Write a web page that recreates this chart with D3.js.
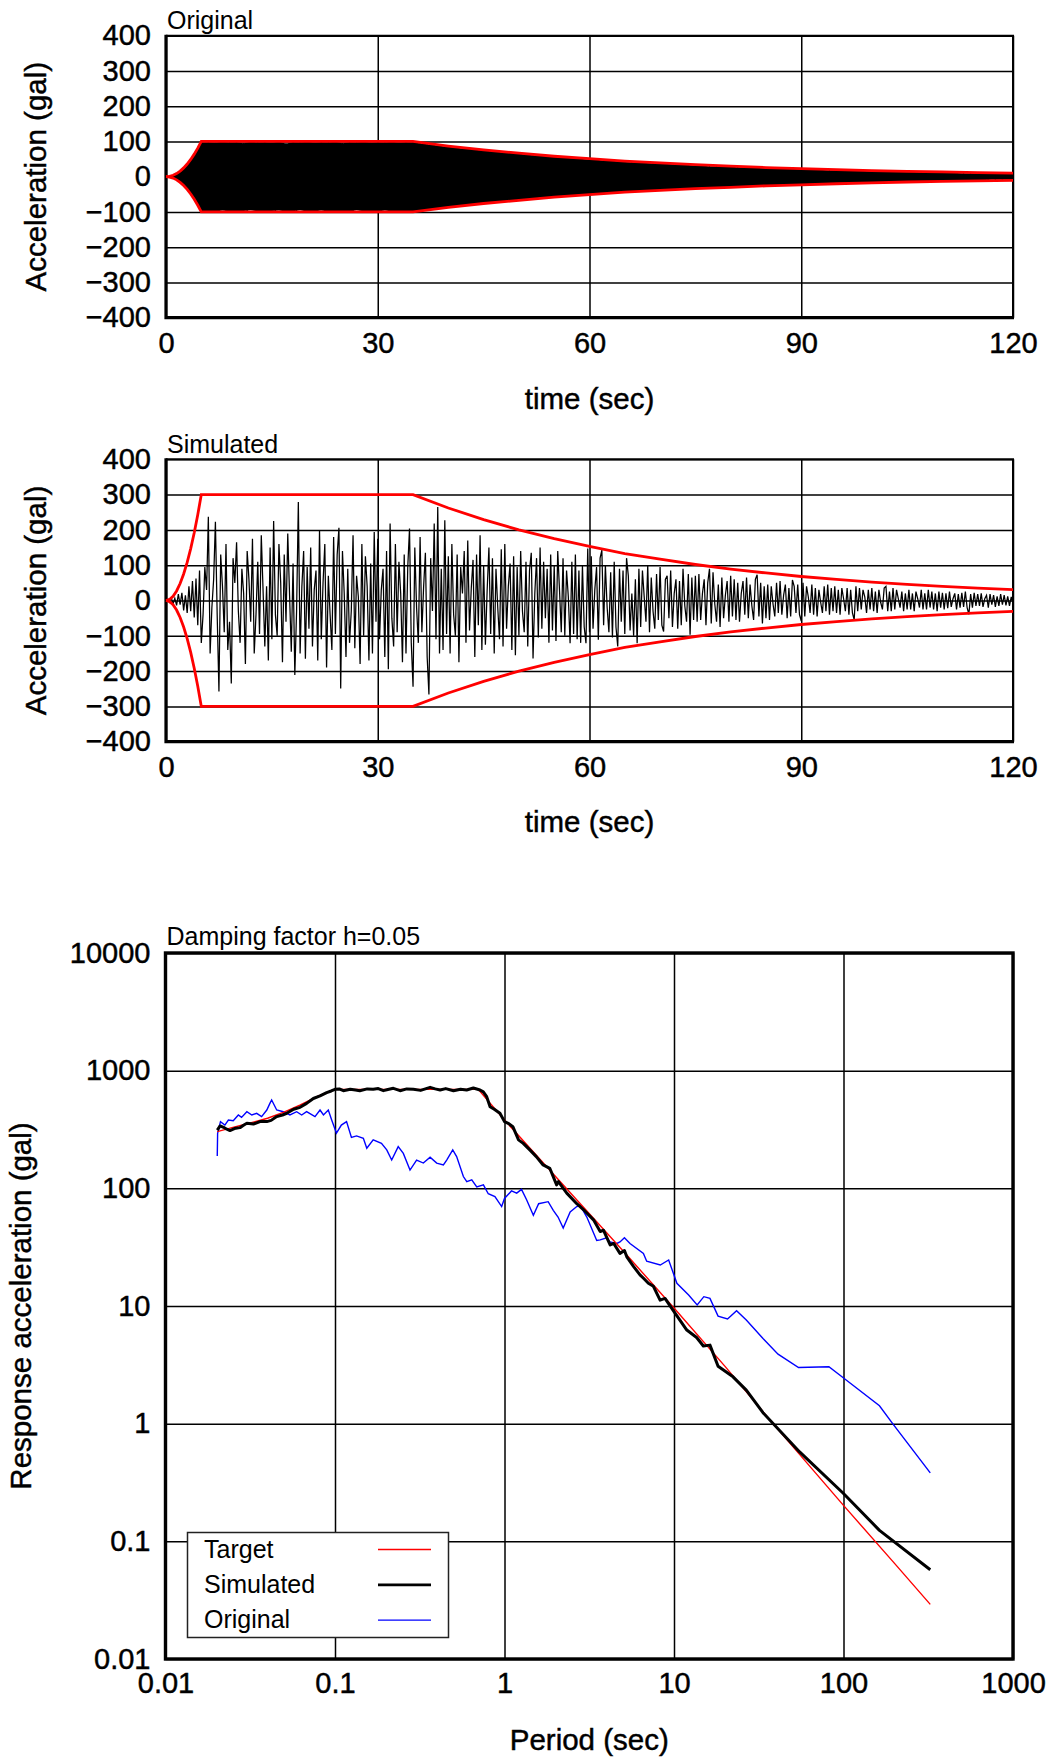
<!DOCTYPE html>
<html>
<head>
<meta charset="utf-8">
<script src="https://cdn.jsdelivr.net/npm/d3@7"></script>
<style>
body { margin: 0; background: #fff; }
svg text { font-family: "Liberation Sans", Arial, sans-serif; fill: #000; }
svg .heavy { stroke: #000; stroke-width: 0.45px; }
</style>
</head>
<body>
<svg id="chart" width="1051" height="1762"></svg>
<script>
// ticks
const timeTicks = [0, 30, 60, 90, 120];
const accTicks = [-400, -300, -200, -100, 0, 100, 200, 300, 400];
const periodTicks = [0.01, 0.1, 1, 10, 100, 1000];
const saTicks = [0.01, 0.1, 1, 10, 100, 1000, 10000];

// envelope (sec, gal)
const envTime = [0, 0.5, 1, 1.5, 2, 2.5, 3, 3.5, 4, 4.5, 5, 35, 40, 45, 50, 55, 60, 65, 70, 75, 80, 85, 90, 95, 100, 105, 110, 115, 120];
const envOriginal = [0, 1, 4, 9, 16, 25, 36, 49, 64, 81, 100, 100, 87, 76, 67, 58, 51, 44, 39, 34, 30, 26, 23, 20, 17.5, 15, 13.5, 11.8, 10.3];
const envSimulated = [0, 3, 12, 27, 48, 75, 108, 147, 192, 243, 300, 300, 262, 229, 200, 175, 153, 133, 117, 102, 89, 78, 68, 60, 52, 45.5, 40, 35, 31];

// original record : peaks per second (gal)
const origMax = [0, 4, 15, 35, 62, 97, 98, 96, 99, 97, 98, 95, 99, 97, 98, 96, 99, 94, 98, 97,
  99, 96, 98, 97, 99, 95, 98, 97, 99, 96, 98, 97, 99, 96, 98, 97, 95, 92, 90, 87,
  85, 83, 80, 79, 76, 75, 72, 71, 68, 67, 65, 63, 61, 60, 58, 56, 55, 53, 52, 50,
  49, 48, 46, 45, 44, 42, 41, 40, 39, 38, 37, 36, 35, 34, 33, 32, 31, 30, 29.5, 29,
  28, 27, 26.5, 26, 25, 24, 23.5, 23, 22, 21.5, 21, 20.5, 20, 19, 18.5, 18, 17.5, 17, 16.5, 16,
  15.5, 15, 14.5, 14, 13.5, 13, 13, 12.5, 12, 11.5, 11.5, 11, 10.5, 10, 10, 9.5, 9, 9, 8.5, 8, 8];
const origMin = [0, -4, -16, -36, -63, -98, -97, -99, -96, -98, -99, -97, -95, -98, -99, -97, -96, -99, -98, -95,
  -99, -98, -96, -99, -97, -98, -99, -95, -98, -97, -99, -96, -98, -99, -97, -98, -96, -93, -91, -88,
  -86, -84, -82, -79, -77, -76, -73, -71, -70, -68, -66, -64, -62, -60, -59, -57, -55, -54, -52, -51,
  -50, -48, -47, -46, -44, -43, -42, -41, -40, -38, -38, -37, -36, -35, -34, -33, -32, -31, -30, -29.5,
  -29, -28, -27, -26.5, -26, -25, -24, -23.5, -23, -22, -22, -21, -20.5, -20, -19, -18.5, -18, -17.5, -17, -16.5,
  -16, -15.5, -15, -14.5, -14, -13.5, -13, -13, -12.5, -12, -11.5, -11.5, -11, -10.5, -10, -10, -9.5, -9, -9, -8.5, -8];

// simulated record, one sample every 0.25 sec (gal)
const dtSim = 0.25;
const simAcc = [
  0, 3, -5, 8, -10, 6, -14, 18, -12, 22, -28, 15, -35, 40, -30, 55, -48, 62, -70, 85,
  -120, -40, 95, 30, 237, -150, -20, 60, 223, -40, -258, 130, 40, -90, 160, -140, -60, -235, 120, 50,
  165, -30, -120, 90, 20, -180, 140, 60, -60, 175, -150, -40, 110, -95, 185, 30, -130, 40, -170, 150,
  -110, 225, -40, -100, 160, 50, -175, 130, -60, 190, 20, -145, 105, -211, -30, 279, -150, 40, 140, -165,
  95, -80, 150, -130, 30, 85, -170, 200, -110, 50, 160, -190, 70, -40, -140, 180, -95, 130, 206, -249,
  140, 20, -160, 90, -120, -30, 185, -135, 70, 10, -180, 160, -100, 125, 40, -170, 105, -150, 194, -60,
  175, -110, 30, 90, -160, 140, -195, 218, -50, -130, 160, -90, 110, 20, -175, 130, -150, 95, 204, -120,
  -244, 150, -20, -120, 180, -90, 40, 135, -160, -266, 120, -30, 218, -110, 265, -150, 90, -140, 227, -95,
  125, -150, 160, -40, -100, 130, -175, 95, 20, 140, -120, 170, -85, 35, 115, -160, 130, -70, 185, -140,
  100, -125, 30, 150, -95, 120, -150, 90, -20, -110, 145, -130, 160, -80, 40, 105, -140, 125, -155, 95,
  -100, 140, -30, -90, 110, -130, 85, 135, -164, 20, 120, -105, 150, -80, 110, -50, 90, -120, 130, -85,
  100, -115, 140, 30, -90, 120, -100, 85, 10, -121, 110, -95, 130, -110, 85, -120, 100, -75, -121, 147,
  -90, 125, -80, 30, 95, -111, 120, 143, -70, 100, -20, -90, 80, -105, 110, -75, -130, 90, -60, 85,
  -95, 120, 70, -85, 20, -100, 60, -121, 90, -75, 85, 10, -60, 100, -90, 65, -30, -80, 75, -55,
  95, -70, -88, 60, 70, -50, 85, -75, 20, 60, -80, 55, -70, 90, -15, -60, 75, -97, 65, -55,
  70, -60, 75, -55, 20, 60, -70, 50, 90, -65, 80, -10, -60, 45, -75, 65, -50, 15, 55, -60,
  70, -45, 60, -55, 50, -60, 20, 55, -40, 65, -50, 45, -15, -55, 60, 73, -45, 50, -65, 40,
  -50, 45, -55, 40, -10, -45, 50, -35, 55, -40, 15, 45, -50, 35, -45, 58, 40, -35, 45, -40,
  -58, 50, -45, 40, 10, -35, 45, -40, 35, -45, 30, -5, -35, 40, -30, 45, -40, 35, -30, 40,
  -35, 30, -40, 35, 5, -30, 35, -40, 30, -35, -55, 40, -30, 35, -25, 30, 10, -35, 30, -25,
  35, -30, 25, -35, 30, -5, -25, 35, 40, -30, 25, -30, 35, -25, 30, 5, -20, 25, -30, 20,
  -25, 30, -25, 20, -30, 25, 5, -20, 30, -25, 20, -25, 30, -20, 25, -25, 20, -30, 25, -20,
  22, -25, 20, -22, 25, -18, 5, 20, -25, 18, -20, 22, -18, 25, -20, -39, 18, -20, 22, -15,
  18, -15, 20, -18, 5, 15, -20, 18, -12, 15, -18, 12, -15, 18, -12, 15, -14, 12, -15, 10,
  -8];

// response spectra [period (sec), acceleration (gal)]
const targetSpec = [[0.0202, 303], [0.025, 330], [0.03, 352], [0.04, 394], [0.05, 445], [0.062, 510], [0.08, 610],
  [0.1, 693], [0.7, 693], [1, 381], [2, 126], [5, 29.5], [10, 9.6], [20, 3.07], [38.4, 1.0], [100, 0.202],
  [200, 0.065], [325, 0.0291]];

const simSpec = [[0.0202, 313], [0.021, 339], [0.022, 330], [0.023, 318], [0.024, 310], [0.0255, 322], [0.0275, 328],
  [0.029, 345], [0.0302, 357], [0.033, 352], [0.0361, 369], [0.0396, 369], [0.042, 378], [0.0453, 407], [0.049, 420],
  [0.0519, 434], [0.057, 470], [0.0622, 488], [0.068, 527], [0.0745, 580], [0.0816, 610], [0.0893, 650], [0.095, 672],
  [0.1, 694], [0.106, 700], [0.112, 676], [0.123, 694], [0.132, 684], [0.14, 676], [0.155, 700], [0.168, 694],
  [0.18, 705], [0.193, 676], [0.205, 692], [0.221, 708], [0.242, 676], [0.265, 700], [0.29, 694], [0.32, 680],
  [0.364, 722], [0.39, 700], [0.417, 685], [0.45, 704], [0.5, 676], [0.55, 695], [0.598, 685], [0.655, 712],
  [0.717, 685], [0.75, 660], [0.785, 601], [0.822, 494], [0.87, 470], [0.94, 434], [1.0, 369], [1.06, 355],
  [1.12, 334], [1.21, 258], [1.29, 241], [1.41, 212], [1.54, 186], [1.69, 158], [1.85, 148], [2.03, 107],
  [2.08, 114], [2.33, 91], [2.67, 74], [2.92, 66], [3.35, 54], [3.67, 43], [3.84, 44], [4.2, 33], [4.41, 34],
  [4.8, 28], [5.1, 29.6], [5.28, 26], [5.78, 21.6], [6.3, 18.4], [6.61, 17.2], [7.06, 15.6], [7.56, 14.7],
  [8.28, 11.2], [8.85, 11.6], [10, 8.95], [11.9, 6.25], [13.6, 5.4], [14.9, 4.57], [16.3, 4.65], [18.2, 3.08],
  [22.3, 2.5], [26.7, 1.93], [33.5, 1.24], [55.1, 0.575], [100, 0.255], [163, 0.124], [325, 0.0574]];

const origSpec = [[0.0202, 188], [0.0203, 294], [0.0211, 369], [0.0224, 345], [0.0235, 381], [0.0251, 376],
  [0.0269, 420], [0.0281, 401], [0.0302, 448], [0.0323, 420], [0.0345, 434], [0.0369, 407], [0.0396, 463],
  [0.0413, 527], [0.0423, 563], [0.0453, 463], [0.0495, 448], [0.0542, 420], [0.0594, 448], [0.0636, 420],
  [0.068, 448], [0.0762, 407], [0.0816, 463], [0.0855, 420], [0.0913, 463], [0.0956, 381], [0.102, 294],
  [0.109, 345], [0.117, 369], [0.125, 271], [0.134, 279], [0.147, 266], [0.154, 219], [0.168, 258], [0.188, 241],
  [0.202, 212], [0.216, 174], [0.236, 226], [0.253, 198], [0.277, 143], [0.303, 174], [0.332, 164], [0.364, 184],
  [0.398, 164], [0.436, 158], [0.456, 174], [0.495, 212], [0.522, 186], [0.572, 126], [0.599, 114], [0.641, 118],
  [0.686, 103], [0.751, 107], [0.802, 90], [0.878, 85], [0.962, 70], [1.0, 82], [1.1, 95], [1.18, 91], [1.26, 98],
  [1.35, 80], [1.48, 59], [1.59, 74], [1.81, 77], [1.94, 65], [2.07, 57], [2.22, 46], [2.44, 63], [2.67, 70],
  [2.79, 72], [3.06, 57], [3.5, 36], [3.67, 36.5], [4.0, 38], [4.19, 35], [4.6, 34], [4.8, 35], [5.1, 38],
  [5.5, 34], [6.6, 28], [6.9, 24], [8.3, 22.3], [9.3, 24.6], [10.4, 15.6], [12.2, 12.4], [13.7, 10.2], [15.0, 12.0],
  [16.3, 11.6], [18.2, 8.2], [20.7, 7.75], [23.4, 9.1], [26.7, 7.6], [33.5, 5.3], [41.1, 3.9], [54.3, 3.0],
  [82, 3.05], [101, 2.42], [163, 1.42], [195, 1.0], [325, 0.382]];

const legendItems = [
  { label: "Target", color: "#ff0000", width: 1.3 },
  { label: "Simulated", color: "#000000", width: 2.8 },
  { label: "Original", color: "#0000ff", width: 1.3 }
];

const svg = d3.select("#chart");
const left = 166, right = 1013;

function styleAxis(a, size) {
  a.select(".domain").remove();
  a.attr("font-family", null).attr("font-size", null);
  a.selectAll("line").attr("stroke", "#000").attr("stroke-width", 1.5);
  a.selectAll("text").attr("class", "heavy").style("font-size", size + "px");
}

// cadre + grille d'un graphe temporel
function AffichageTemps(top, bottom, title, titleBase, xTitleBase) {
  const x = d3.scaleLinear().domain([0, 120]).range([left, right]);
  const y = d3.scaleLinear().domain([-400, 400]).range([bottom, top]);

  svg.append("g")
    .attr("transform", `translate(${left},0)`)
    .call(d3.axisLeft(y).tickValues(accTicks).tickSize(-(right - left)).tickPadding(15).tickFormat(d3.format("d")))
    .call(a => styleAxis(a, 29));

  svg.append("g")
    .attr("transform", `translate(0,${bottom})`)
    .call(d3.axisBottom(x).tickValues(timeTicks).tickSize(-(bottom - top)).tickPadding(14.5))
    .call(a => styleAxis(a, 29));

  // bord haut/droit fin, gauche/bas epais
  svg.append("path")
    .attr("d", `M${left},${top}H${right}V${bottom}`)
    .attr("fill", "none").attr("stroke", "#000").attr("stroke-width", 2);
  svg.append("path")
    .attr("d", `M${left},${top - 1}V${bottom}H${right + 1}`)
    .attr("fill", "none").attr("stroke", "#000").attr("stroke-width", 3.2);

  svg.append("text").attr("x", left + 1).attr("y", titleBase)
    .style("font-size", "25px").text(title);

  svg.append("text")
    .attr("class", "heavy")
    .attr("transform", `translate(46,${(top + bottom) / 2}) rotate(-90)`)
    .attr("text-anchor", "middle").style("font-size", "29.5px")
    .text("Acceleration (gal)");

  svg.append("text").attr("class", "heavy")
    .attr("x", (left + right) / 2).attr("y", xTitleBase)
    .attr("text-anchor", "middle").style("font-size", "29.5px")
    .text("time (sec)");

  return { x, y };
}

function AffichageEnveloppe(sc, env) {
  const line = d3.line().x((d, i) => sc.x(envTime[i])).y(d => sc.y(d));
  svg.append("path").datum(env).attr("d", line)
    .attr("fill", "none").attr("stroke", "#ff0000").attr("stroke-width", 2.8);
  svg.append("path").datum(env.map(v => -v)).attr("d", line)
    .attr("fill", "none").attr("stroke", "#ff0000").attr("stroke-width", 2.8);
}

// graphe 1 : original
const sc1 = AffichageTemps(35.7, 317.7, "Original", 29, 409);
const area1 = d3.area().x((d, i) => sc1.x(i)).y0((d, i) => sc1.y(origMin[i])).y1(d => sc1.y(d));
svg.append("path").datum(origMax).attr("d", area1).attr("fill", "#000");
const zig = [];
origMax.forEach((v, i) => { zig.push([i, v]); if (i < origMax.length - 1) zig.push([i + 0.5, origMin[i]]); });
svg.append("path").datum(zig)
  .attr("d", d3.line().x(d => sc1.x(d[0])).y(d => sc1.y(d[1])))
  .attr("fill", "none").attr("stroke", "#000").attr("stroke-width", 1);
AffichageEnveloppe(sc1, envOriginal);

// graphe 2 : simule
const sc2 = AffichageTemps(459.3, 741.7, "Simulated", 453, 832);
svg.append("path").datum(simAcc)
  .attr("d", d3.line().x((d, i) => sc2.x(i * dtSim)).y(d => sc2.y(d)))
  .attr("fill", "none").attr("stroke", "#000").attr("stroke-width", 1.25);
AffichageEnveloppe(sc2, envSimulated);

// graphe 3 : spectre de reponse
function AffichageSpectre() {
  const top = 953, bottom = 1659, sLeft = 165.5;
  const x = d3.scaleLog().domain([0.01, 1000]).range([sLeft, right]);
  const y = d3.scaleLog().domain([0.01, 10000]).range([bottom, top]);

  svg.append("g")
    .attr("transform", `translate(${sLeft},0)`)
    .call(d3.axisLeft(y).tickValues(saTicks).tickSize(-(right - sLeft)).tickPadding(15).tickFormat(d => String(d)))
    .call(a => styleAxis(a, 29));

  svg.append("g")
    .attr("transform", `translate(0,${bottom})`)
    .call(d3.axisBottom(x).tickValues(periodTicks).tickSize(-(bottom - top)).tickPadding(13.5).tickFormat(d => String(d)))
    .call(a => styleAxis(a, 29));

  const line = d3.line().x(d => x(d[0])).y(d => y(d[1]));
  svg.append("path").datum(origSpec).attr("d", line)
    .attr("fill", "none").attr("stroke", "#0000ff").attr("stroke-width", 1.4);
  svg.append("path").datum(targetSpec).attr("d", line)
    .attr("fill", "none").attr("stroke", "#ff0000").attr("stroke-width", 1.4);
  svg.append("path").datum(simSpec).attr("d", line)
    .attr("fill", "none").attr("stroke", "#000").attr("stroke-width", 3)
    .attr("stroke-linejoin", "round");

  svg.append("rect")
    .attr("x", sLeft).attr("y", top).attr("width", right - sLeft).attr("height", bottom - top)
    .attr("fill", "none").attr("stroke", "#000").attr("stroke-width", 3.4);

  svg.append("text").attr("x", sLeft + 1).attr("y", 945)
    .style("font-size", "25px").text("Damping factor h=0.05");

  svg.append("text").attr("class", "heavy")
    .attr("transform", `translate(31,${(top + bottom) / 2}) rotate(-90)`)
    .attr("text-anchor", "middle").style("font-size", "29.5px")
    .text("Response acceleration (gal)");

  svg.append("text").attr("class", "heavy")
    .attr("x", (sLeft + right) / 2).attr("y", 1750)
    .attr("text-anchor", "middle").style("font-size", "29.5px")
    .text("Period (sec)");

  // legende
  const lg = svg.append("g");
  lg.append("rect").attr("x", 187.5).attr("y", 1532.5).attr("width", 261).attr("height", 105)
    .attr("fill", "#fff").attr("stroke", "#222").attr("stroke-width", 1.5);
  legendItems.forEach((d, i) => {
    lg.append("text").attr("x", 204).attr("y", 1558 + i * 35)
      .style("font-size", "25px").text(d.label);
    lg.append("line").attr("x1", 378).attr("x2", 431)
      .attr("y1", 1549.5 + i * 35.3).attr("y2", 1549.5 + i * 35.3)
      .attr("stroke", d.color).attr("stroke-width", d.width);
  });
}

AffichageSpectre();
</script>
</body>
</html>
